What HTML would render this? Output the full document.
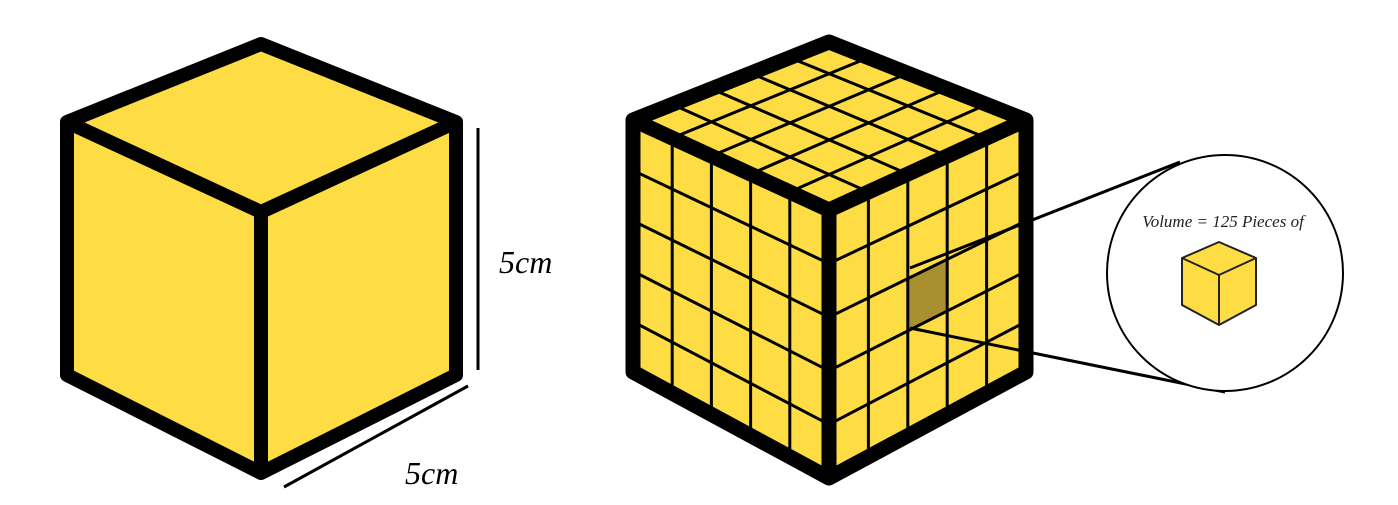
<!DOCTYPE html>
<html><head><meta charset="utf-8"><style>
body{margin:0;background:#fff;width:1398px;height:500px;overflow:hidden}
text{font-family:"Liberation Serif",serif;font-style:italic}
</style></head><body>
<svg id="s" width="1398" height="500" viewBox="0 0 1398 500">
<g stroke="#000" stroke-width="14" stroke-linejoin="round" fill="#FEDD44">
<polygon points="261,44 67,122 67,375 261,473 456,375 456,122"/>
<polyline points="67,122 261,212 456,122" fill="none"/>
<line x1="261" y1="212" x2="261" y2="473"/>
</g>
<line x1="478" y1="128" x2="478" y2="370" stroke="#000" stroke-width="3"/>
<line x1="284" y1="487" x2="468" y2="386" stroke="#000" stroke-width="3"/>
<text x="499" y="273" font-size="32">5cm</text>
<text x="405" y="484" font-size="32">5cm</text>
<g id="grid"></g>
<line x1="910" y1="268" x2="1180" y2="162" stroke="#000" stroke-width="3"/>
<line x1="910" y1="328" x2="1225" y2="392" stroke="#000" stroke-width="3"/>
<circle cx="1225" cy="273" r="118" fill="#fff" stroke="#000" stroke-width="2"/>
<text x="1223" y="227" font-size="17" text-anchor="middle" fill="#222">Volume = 125 Pieces of</text>
<g stroke="#222" stroke-width="2" stroke-linejoin="round" fill="#FEDD44">
<polygon points="1219,242 1182,258 1182,305 1219,325 1256,305 1256,258"/>
<polyline points="1182,258 1219,275 1256,258" fill="none"/>
<line x1="1219" y1="275" x2="1219" y2="325"/>
</g>
</svg>
<script>
const N=5;
const g=document.getElementById('grid');
const NS='http://www.w3.org/2000/svg';
const T=[829,42],L=[633,120],R=[1026,120],C=[829,210],LB=[633,372],RB=[1026,372],B=[829,478];
function mk(tag,a){const e=document.createElementNS(NS,tag);for(const k in a)e.setAttribute(k,a[k]);g.appendChild(e);return e;}
const body=mk('polygon',{points:[T,L,LB,B,RB,R].map(p=>p.join(',')).join(' '),fill:'#FEDD44'});


function bil(p00,p10,p01,p11,u,v){return [p00[0]*(1-u)*(1-v)+p10[0]*u*(1-v)+p01[0]*(1-u)*v+p11[0]*u*v,p00[1]*(1-u)*(1-v)+p10[1]*u*(1-v)+p01[1]*(1-u)*v+p11[1]*u*v];}
const faces=[[L,T,C,R],[L,C,LB,B],[C,R,B,RB]];
const s=[[0.4,0.4],[0.6,0.4],[0.6,0.6],[0.4,0.6]].map(([u,v])=>bil(C,R,B,RB,u,v));
const sh=mk('polygon',{points:s.map(p=>p.join(',')).join(' '),fill:'#A89030'});


faces.forEach(f=>{for(let i=1;i<N;i++){const t=i/N;
 let a=bil(f[0],f[1],f[2],f[3],t,0),b=bil(f[0],f[1],f[2],f[3],t,1);
 let l=mk('line',{x1:a[0],y1:a[1],x2:b[0],y2:b[1],stroke:'#000','stroke-width':3});
 
 
 a=bil(f[0],f[1],f[2],f[3],0,t);b=bil(f[0],f[1],f[2],f[3],1,t);
 l=mk('line',{x1:a[0],y1:a[1],x2:b[0],y2:b[1],stroke:'#000','stroke-width':3});
 
 
}});
const o=mk('polygon',{points:[T,L,LB,B,RB,R].map(p=>p.join(',')).join(' '),fill:'none',stroke:'#000','stroke-width':15,'stroke-linejoin':'round'});


const e=mk('polyline',{points:[L,C,R].map(p=>p.join(',')).join(' '),fill:'none',stroke:'#000','stroke-width':15,'stroke-linejoin':'round'});


const v=mk('line',{x1:C[0],y1:C[1],x2:B[0],y2:B[1],stroke:'#000','stroke-width':15});


</script>
</body></html>
